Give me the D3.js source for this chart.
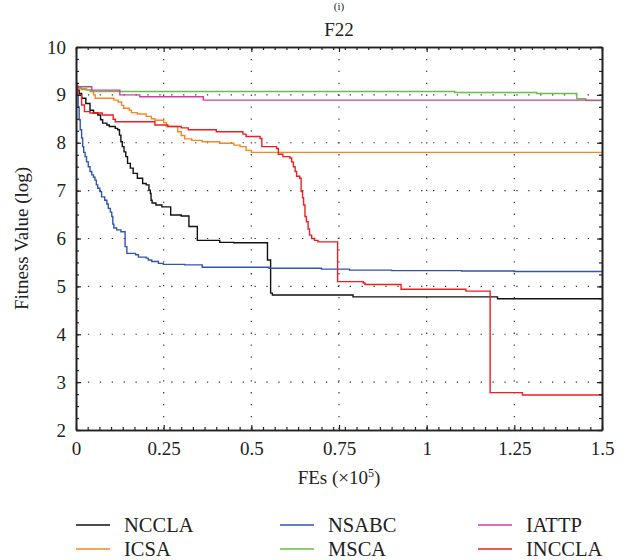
<!DOCTYPE html>
<html>
<head>
<meta charset="utf-8">
<script src="https://cdn.jsdelivr.net/npm/d3@7"></script>
<style>
  html, body { margin: 0; padding: 0; background: #fff; }
  svg { display: block; font-family: "Liberation Serif", "DejaVu Serif", serif; }
</style>
</head>
<body>
<svg id="chart" width="627" height="560"></svg>
<script>
// ---------------- data ----------------
const panelLabel = "(i)";
const chartTitle = "F22";
const xLabel = "FEs (\u00d710";
const yLabel = "Fitness Value (log)";
const xTicks = [0, 0.25, 0.5, 0.75, 1, 1.25, 1.5];
const xTickLabels = ["0", "0.25", "0.5", "0.75", "1", "1.25", "1.5"];
const yTicks = [2, 3, 4, 5, 6, 7, 8, 9, 10];
const yTickLabels = ["2", "3", "4", "5", "6", "7", "8", "9", "10"];
const seriesNames = ["NCCLA", "NSABC", "IATTP", "ICSA", "MSCA", "INCCLA"];
const seriesColors = ["#111111", "#2f55b0", "#cc3fa3", "#f7861f", "#6cbd45", "#ee1d25"];

// step-after data: x where a level starts, level value
const xNCCLA = [0, 0.004, 0.009, 0.016, 0.028, 0.04, 0.05, 0.062, 0.07, 0.076, 0.088, 0.095, 0.112, 0.119, 0.124, 0.128, 0.132, 0.137, 0.142, 0.147, 0.155, 0.163, 0.175, 0.19, 0.2, 0.208, 0.212, 0.214, 0.217, 0.228, 0.245, 0.27, 0.3, 0.322, 0.346, 0.41, 0.45, 0.546, 0.555, 0.56, 0.79, 1.202, 1.5];
const yNCCLA = [9.21, 9.1, 9.03, 8.93, 8.82, 8.68, 8.62, 8.58, 8.48, 8.41, 8.37, 8.34, 8.30, 8.27, 8.16, 8.02, 7.92, 7.81, 7.71, 7.57, 7.47, 7.36, 7.26, 7.15, 7.12, 7.01, 6.94, 6.80, 6.74, 6.70, 6.66, 6.49, 6.47, 6.25, 5.96, 5.92, 5.91, 5.55, 4.86, 4.82, 4.78, 4.74, 4.74];

const xNSABC = [0, 0.003, 0.006, 0.009, 0.012, 0.016, 0.019, 0.022, 0.026, 0.03, 0.035, 0.04, 0.045, 0.05, 0.054, 0.058, 0.062, 0.068, 0.073, 0.082, 0.088, 0.092, 0.098, 0.102, 0.105, 0.108, 0.116, 0.128, 0.14, 0.145, 0.17, 0.178, 0.2, 0.206, 0.216, 0.235, 0.249, 0.31, 0.36, 0.55, 0.7, 0.78, 0.9, 1.1, 1.25, 1.5];
const yNSABC = [9.24, 9.0, 8.75, 8.48, 8.27, 8.1, 7.92, 7.8, 7.71, 7.6, 7.5, 7.4, 7.33, 7.28, 7.22, 7.12, 7.05, 6.98, 6.87, 6.80, 6.72, 6.63, 6.55, 6.46, 6.3, 6.22, 6.18, 6.14, 5.83, 5.69, 5.66, 5.61, 5.59, 5.55, 5.52, 5.48, 5.46, 5.45, 5.40, 5.38, 5.36, 5.34, 5.33, 5.32, 5.31, 5.31];

const xIATTP = [0, 0.045, 0.125, 0.182, 0.363, 1.5];
const yIATTP = [9.17, 9.10, 9.0, 8.96, 8.89, 8.89];

const xICSA = [0, 0.004, 0.012, 0.03, 0.045, 0.05, 0.055, 0.108, 0.12, 0.13, 0.136, 0.152, 0.158, 0.175, 0.2, 0.215, 0.225, 0.25, 0.258, 0.29, 0.3, 0.31, 0.33, 0.36, 0.41, 0.45, 0.468, 0.485, 0.5, 1.5];
const yICSA = [9.25, 9.17, 9.13, 9.10, 9.07, 9.0, 8.93, 8.89, 8.85, 8.78, 8.72, 8.68, 8.63, 8.60, 8.55, 8.50, 8.47, 8.42, 8.34, 8.23, 8.15, 8.08, 8.05, 8.02, 7.99, 7.95, 7.92, 7.84, 7.80, 7.80];

const xMSCA = [0, 0.004, 0.015, 0.04, 1.08, 1.314, 1.428, 1.454, 1.5];
const yMSCA = [9.2, 9.14, 9.11, 9.07, 9.05, 9.03, 8.92, 8.88, 8.88];

const xINCCLA = [0, 0.005, 0.016, 0.024, 0.04, 0.075, 0.106, 0.112, 0.225, 0.262, 0.3, 0.32, 0.40, 0.476, 0.485, 0.525, 0.53, 0.572, 0.577, 0.59, 0.61, 0.615, 0.62, 0.625, 0.629, 0.638, 0.642, 0.646, 0.649, 0.653, 0.657, 0.662, 0.666, 0.672, 0.68, 0.69, 0.746, 0.819, 0.824, 0.927, 1.112, 1.181, 1.273, 1.5];
const yINCCLA = [9.18, 9.0, 8.79, 8.65, 8.62, 8.58, 8.49, 8.44, 8.37, 8.34, 8.31, 8.27, 8.23, 8.18, 8.13, 8.09, 7.92, 7.88, 7.76, 7.71, 7.68, 7.6, 7.5, 7.4, 7.3, 7.26, 6.98, 6.85, 6.7, 6.46, 6.35, 6.2, 6.07, 6.0, 5.96, 5.93, 5.10, 5.07, 5.04, 4.94, 4.90, 2.78, 2.73, 2.73];

const drawOrder = [
  { name: "NCCLA", xs: xNCCLA, ys: yNCCLA },
  { name: "ICSA", xs: xICSA, ys: yICSA },
  { name: "NSABC", xs: xNSABC, ys: yNSABC },
  { name: "MSCA", xs: xMSCA, ys: yMSCA },
  { name: "IATTP", xs: xIATTP, ys: yIATTP },
  { name: "INCCLA", xs: xINCCLA, ys: yINCCLA }
];

// ---------------- layout ----------------
const W = 627, H = 560;
const m = { left: 76, right: 25, top: 47, bottom: 130 };
const pw = W - m.left - m.right, ph = H - m.top - m.bottom;
const svg = d3.select("#chart");
const g = svg.append("g").attr("transform", `translate(${m.left},${m.top})`);

const x = d3.scaleLinear().domain([0, 1.5]).range([0, pw]);
const y = d3.scaleLinear().domain([2, 10]).range([ph, 0]);
const color = d3.scaleOrdinal().domain(seriesNames).range(seriesColors);
const fontSize = 19;

// grid (dotted)
const gridColor = "#333";
g.append("g").selectAll("line").data(xTicks.slice(1, -1)).join("line")
  .attr("x1", d => x(d)).attr("x2", d => x(d)).attr("y1", 0).attr("y2", ph)
  .attr("stroke", gridColor).attr("stroke-width", 1.2).attr("stroke-dasharray", "1.3,10.6");
g.append("g").selectAll("line").data(yTicks.slice(1, -1)).join("line")
  .attr("x1", 0).attr("x2", pw).attr("y1", d => y(d)).attr("y2", d => y(d))
  .attr("stroke", gridColor).attr("stroke-width", 1.2).attr("stroke-dasharray", "1.3,10.6");

// series
const line = d3.line().x(d => x(d[0])).y(d => y(d[1])).curve(d3.curveStepAfter);
g.append("g").selectAll("path").data(drawOrder).join("path")
  .attr("d", s => line(s.xs.map((v, i) => [v, s.ys[i]])))
  .attr("fill", "none")
  .attr("stroke", s => color(s.name))
  .attr("stroke-width", 1.4)
  .attr("stroke-linejoin", "miter");

// axes: major ticks inward, minor ticks inward
const axisColor = "#222";
const xMinor = d3.range(0, 1.5 + 1e-9, 1 / 30);
const yMinor = d3.range(2, 10 + 1e-9, 0.25);
const axB = d3.axisBottom(x).tickValues(xTicks).tickFormat((d, i) => xTickLabels[i]).tickSizeInner(-5).tickSizeOuter(0).tickPadding(12);
const axL = d3.axisLeft(y).tickValues(yTicks).tickFormat((d, i) => yTickLabels[i]).tickSizeInner(-5).tickSizeOuter(0).tickPadding(10);
const axT = d3.axisTop(x).tickValues(xTicks).tickFormat("").tickSizeInner(-5).tickSizeOuter(0);
const axR = d3.axisRight(y).tickValues(yTicks).tickFormat("").tickSizeInner(-5).tickSizeOuter(0);
const axBm = d3.axisBottom(x).tickValues(xMinor).tickFormat("").tickSizeInner(-3).tickSizeOuter(0);
const axTm = d3.axisTop(x).tickValues(xMinor).tickFormat("").tickSizeInner(-3).tickSizeOuter(0);
const axLm = d3.axisLeft(y).tickValues(yMinor).tickFormat("").tickSizeInner(-3).tickSizeOuter(0);
const axRm = d3.axisRight(y).tickValues(yMinor).tickFormat("").tickSizeInner(-3).tickSizeOuter(0);

function styleAxis(sel) {
  sel.selectAll("path.domain").attr("stroke", axisColor).attr("stroke-width", 1.6);
  sel.selectAll(".tick line").attr("stroke", axisColor).attr("stroke-width", 1.2);
  sel.selectAll("text").attr("fill", "#222").style("font-size", fontSize + "px")
    .style("font-family", '"Liberation Serif", "DejaVu Serif", serif');
}
styleAxis(g.append("g").attr("transform", `translate(0,${ph})`).call(axBm));
styleAxis(g.append("g").call(axTm));
styleAxis(g.append("g").call(axLm));
styleAxis(g.append("g").attr("transform", `translate(${pw},0)`).call(axRm));
styleAxis(g.append("g").attr("transform", `translate(0,${ph})`).call(axB));
styleAxis(g.append("g").call(axL));
styleAxis(g.append("g").call(axT));
styleAxis(g.append("g").attr("transform", `translate(${pw},0)`).call(axR));

// sub-figure label at top (kept small so it stays inside the picture)
svg.append("text").attr("x", m.left + pw / 2).attr("y", 10).attr("text-anchor", "middle")
  .style("font-size", "11px").attr("fill", "#222").text(panelLabel);

// title
svg.append("text").attr("x", m.left + pw / 2).attr("y", 36).attr("text-anchor", "middle")
  .style("font-size", fontSize + "px").attr("fill", "#222").text(chartTitle);

// x label with superscript
const xl = svg.append("text").attr("x", m.left + pw / 2).attr("y", 484).attr("text-anchor", "middle")
  .style("font-size", fontSize + "px").attr("fill", "#222");
xl.append("tspan").text(xLabel);
xl.append("tspan").attr("dy", -7).style("font-size", "12px").text("5");
xl.append("tspan").attr("dy", 7).text(")");

// y label
svg.append("text").attr("transform", `translate(28,${m.top + ph / 2}) rotate(-90)`)
  .attr("text-anchor", "middle").style("font-size", fontSize + "px").attr("fill", "#222").text(yLabel);

// legend: 3 columns, 2 rows
const legX = [76, 280, 478];
const legY = [525, 549];
const leg = svg.append("g").selectAll("g").data(seriesNames).join("g")
  .attr("transform", (d, i) => `translate(${legX[i % 3]},${legY[Math.floor(i / 3)]})`);
leg.append("line").attr("x1", 0).attr("x2", 34).attr("y1", 0).attr("y2", 0)
  .attr("stroke", d => color(d)).attr("stroke-width", 1.6);
leg.append("text").attr("x", 48).attr("y", 6.5).style("font-size", "20.5px").attr("fill", "#222").text(d => d);
</script>
</body>
</html>
